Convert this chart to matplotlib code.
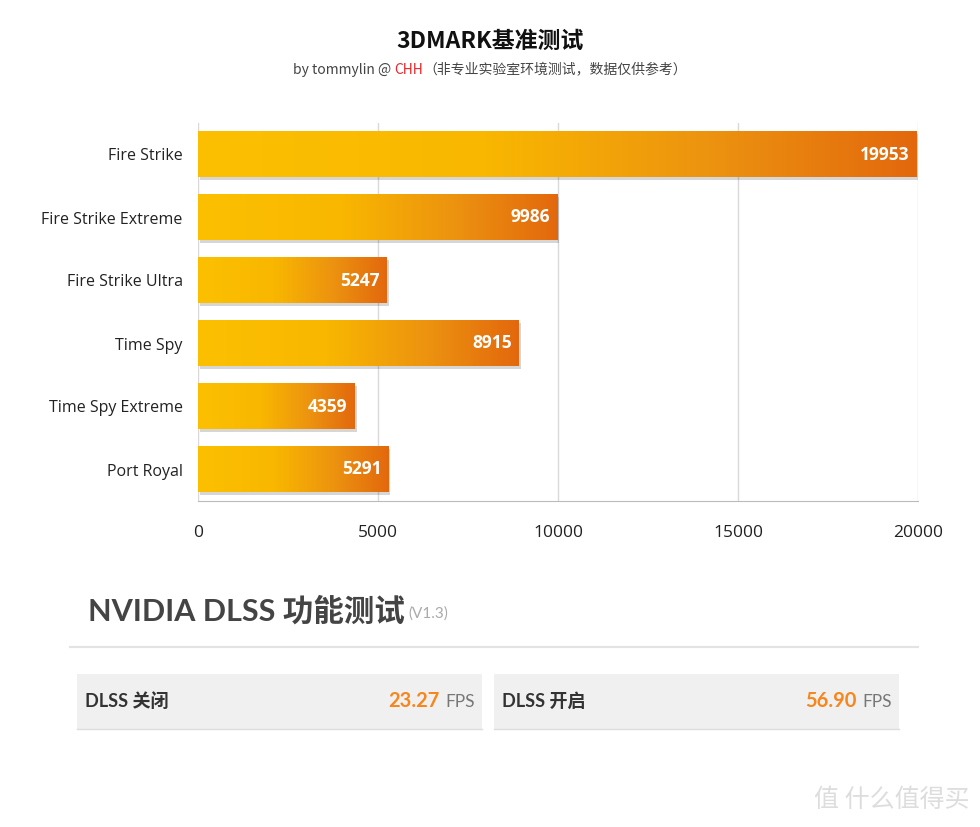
import numpy as np
import matplotlib
matplotlib.use('Agg')
import matplotlib.pyplot as plt
from matplotlib.colors import LinearSegmentedColormap
from matplotlib.patches import Rectangle

plt.rcParams['font.family'] = ['Open Sans', 'Noto Sans CJK SC', 'DejaVu Sans']

# data
categories = ['Fire Strike', 'Fire Strike Extreme', 'Fire Strike Ultra',
              'Time Spy', 'Time Spy Extreme', 'Port Royal']
scores = [19953, 9986, 5247, 8915, 4359, 5291]
x_ticks = [0, 5000, 10000, 15000, 20000]
dlss_labels = ['DLSS 关闭', 'DLSS 开启']
dlss_fps = [23.27, 56.90]

cmap = LinearSegmentedColormap.from_list(
    'bar', [(0.0, '#FCC000'), (0.4, '#F9B700'), (0.72, '#EC9210'), (1.0, '#E3680D')])
grad = np.linspace(0, 1, 256).reshape(1, -1)

fig = plt.figure(figsize=(9.8, 8.27), dpi=100)
fig.patch.set_facecolor('white')
r = fig.canvas.get_renderer()

# title block
fig.text(0.5, 1 - 41 / 827, '3DMARK基准测试', ha='center', va='center',
         fontsize=16.5, fontweight='bold', family=['Noto Sans CJK SC'], color='#111111')
sub_y = 1 - 70 / 827
t1 = fig.text(0.5, sub_y, 'by tommylin @ CHH（非专业实验室环境测试，数据仅供参考）', ha='center',
              va='center', fontsize=10, color='white', family=['Noto Sans CJK SC'])
bb = t1.get_window_extent(r)
t1.set_visible(False)
x0 = bb.x0 / fig.bbox.width
parts = [('by tommylin @ ', '#444444'), ('CHH', '#E8262B'), ('（非专业实验室环境测试，数据仅供参考）', '#444444')]
for txt, col in parts:
    t = fig.text(x0, sub_y, txt, ha='left', va='center', fontsize=10, color=col,
                 family=['Noto Sans CJK SC'])
    x0 = t.get_window_extent(r).x1 / fig.bbox.width

# bar chart
ax = fig.add_axes([198 / 980, 1 - 501 / 827, 720 / 980, 378 / 827])
y = np.arange(len(categories))
h = 0.73
for yi, v in zip(y, scores):
    ax.add_patch(Rectangle((50, yi - h / 2 + 0.035), v, h, color='#000000', alpha=0.16,
                           lw=0, zorder=2))
    ax.imshow(grad, cmap=cmap, aspect='auto', extent=(0, v, yi + h / 2, yi - h / 2),
              zorder=3, interpolation='bilinear')
    ax.text(v - 200, yi, str(v), ha='right', va='center', color='white',
            fontsize=12.5, fontweight='bold', zorder=4)
ax.set_xlim(0, 20000)
ax.set_ylim(len(categories) - 0.5, -0.5)
ax.set_yticks(y)
ax.set_yticklabels(categories, fontsize=11.5, color='#222222')
ax.set_xticks(x_ticks)
ax.set_xticklabels([str(t) for t in x_ticks], fontsize=12.5, color='#222222')
ax.tick_params(length=0)
ax.tick_params(axis='y', pad=11)
ax.tick_params(axis='x', pad=17)
ax.grid(axis='x', color='#d9d9d9', lw=1, zorder=0)
ax.set_axisbelow(True)
for s in ['top', 'right', 'left']:
    ax.spines[s].set_visible(False)
ax.spines['bottom'].set_color('#bbbbbb')

# DLSS block
th = fig.text(88 / 980, 1 - 611 / 827, 'NVIDIA DLSS 功能测试', ha='left', va='center',
              fontsize=22, fontweight='bold', color='#444444', family=['Lato', 'Noto Sans CJK SC'])
hx = th.get_window_extent(r).x1 / fig.bbox.width
fig.text(hx + 4 / 980, 1 - 614 / 827, '(V1.3)', ha='left', va='center', fontsize=11,
         color='#aaaaaa', family=['Lato'])
fig.add_artist(plt.Line2D([70 / 980, 918 / 980], [1 - 647 / 827] * 2, color='#e3e3e3', lw=1.5))

boxes = [(77, 482), (494, 899)]
for (bx0, bx1), lab, fps in zip(boxes, dlss_labels, dlss_fps):
    fig.add_artist(Rectangle((bx0 / 980, 1 - 729 / 827), (bx1 - bx0) / 980, 55 / 827,
                             transform=fig.transFigure, color='#f0f0f0', lw=0))
    fig.add_artist(plt.Line2D([bx0 / 980, bx1 / 980], [1 - 729 / 827] * 2, color='#dddddd', lw=1))
    fig.text((bx0 + 8) / 980, 1 - 701 / 827, lab, ha='left', va='center', fontsize=13,
             fontweight='bold', color='#333333', family=['Lato', 'Noto Sans CJK SC'])
    tf = fig.text((bx1 - 7) / 980, 1 - 702 / 827, 'FPS', ha='right', va='center',
                  fontsize=12.5, color='#777777', family=['Lato'])
    fx = tf.get_window_extent(r).x0 / fig.bbox.width
    fig.text(fx - 6 / 980, 1 - 701 / 827, f'{fps:.2f}', ha='right', va='center',
             fontsize=14.5, fontweight='bold', color='#F7861C', family=['Lato'])

# watermark
fig.text(970 / 980, 1 - 800 / 827, '值 什么值得买', ha='right', va='center', fontsize=18,
         color='#dddddd', family=['Noto Sans CJK SC'])

fig.savefig('out.png', dpi=100)
